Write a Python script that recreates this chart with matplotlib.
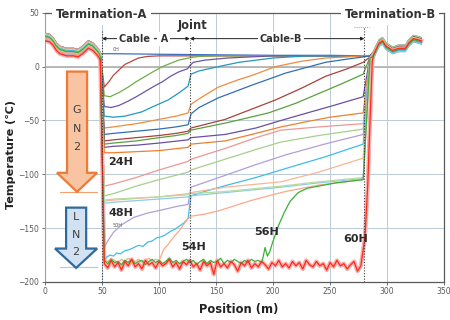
import numpy as np
import matplotlib.pyplot as plt
from matplotlib.patches import Polygon

# shared shape of the two termination sections (position m, temperature C)
termA_x = [0, 4, 7, 10, 13, 19, 25, 29, 33, 38, 42, 45.5, 47, 48.5]
termA_t = [28, 27, 24, 19, 16, 14, 14, 13, 16, 21, 19, 15, 13, 10]
termB_x = [288, 293, 296, 299, 305, 310, 316, 319, 323, 327, 330]
termB_t = [11, 22, 24, 19, 15, 17, 17, 22, 26, 25, 24]

# cable section of every trace, top to bottom
s01_x = [52, 60, 100, 150, 200, 250, 279, 285]
s01_t = [12, 12, 11.5, 11, 10.5, 10.5, 10, 10]
s02_x = [52, 56, 60, 65, 70, 76, 82, 90, 100, 279, 285]
s02_t = [-19, -14, -8, -3, 2, 5, 8, 9.5, 10, 10, 10]
s03_x = [52, 57, 65, 73, 80, 88, 96, 103, 110, 117, 126, 135, 150, 279, 285]
s03_t = [-27, -28, -24, -19, -14, -9, -4, 0, 3, 6, 8, 9.5, 10, 10, 10]
s04_x = [52, 58, 65, 73, 80, 88, 96, 103, 110, 117, 125, 127, 130, 140, 160, 200, 279, 285]
s04_t = [-37, -38, -36, -32, -28, -23, -18, -14, -9, -5, -2, 1, 4, 6, 8, 10, 10, 10]
s05_x = [52, 60, 70, 85, 95, 108, 118, 125.5, 128, 135, 152, 170, 200, 230, 279, 285]
s05_t = [-46, -47, -46, -42, -37, -31, -24, -18, -7, -4, 0, 4, 8, 10, 10, 10]
s06_x = [52, 60, 80, 100, 115, 125.5, 128, 135, 152, 170, 182, 202, 225, 246, 265, 279, 285]
s06_t = [-57, -56, -53, -49, -46, -43, -35, -30, -19, -12, -8, 0, 5, 8, 9, 10, 10]
s07_x = [52, 60, 80, 100, 115, 125.5, 128, 135, 152, 182, 211, 246, 265, 279, 285]
s07_t = [-63, -62, -60, -58, -56, -54, -44, -38, -29, -17, -6, 4, 7, 9, 10]
s08_x = [52, 60, 80, 100, 115, 125.5, 128, 158, 180, 202, 225, 246, 265, 279, 285]
s08_t = [-69, -68, -66, -64, -62, -60, -57, -49, -40, -31, -20, -9, -2, 4, 9]
s09_x = [52, 60, 80, 100, 115, 125.5, 128, 160, 196, 220, 240, 260, 279, 285]
s09_t = [-72, -71, -69, -66, -64, -62, -59, -52, -43, -34, -25, -16, -7, 9]
s10_x = [52, 60, 80, 100, 125.5, 128, 158, 185, 207, 230, 250, 279, 285]
s10_t = [-75, -74, -73, -71, -68, -66, -63, -57, -50, -43, -37, -28, 9]
s11_x = [52, 60, 100, 125.5, 128, 158, 185, 207, 230, 250, 279, 285]
s11_t = [-80, -80, -78, -75, -72, -69, -62, -56, -51, -47, -43, 9]
s12_x = [52, 60, 80, 100, 125.5, 128, 158, 185, 207, 240, 279, 285]
s12_t = [-111, -109, -103, -96, -88, -86, -76, -66, -59, -56, -53, 8]
s13_x = [52, 60, 80, 100, 125.5, 128, 158, 185, 207, 240, 279, 285]
s13_t = [-120, -118, -111, -105, -98, -96, -86, -77, -70, -64, -58, 8]
s14_x = [52, 55, 60, 67, 78, 90, 103, 115, 125.5, 128, 158, 185, 211, 245, 279, 285]
s14_t = [-168, -162, -154, -147, -140, -136, -133, -130, -128, -112, -101, -91, -82, -72, -63, 8]
s15_x = [52, 54, 57, 60, 63, 66, 70, 74, 78, 82, 86, 90, 94, 98, 102, 106, 110, 114, 118, 122,
         125.5, 128, 140, 160, 185, 210, 245, 279, 285]
s15_t = [-181, -177, -175, -176, -173, -174, -171, -170, -168, -166, -167, -163, -162, -159, -158,
         -156, -153, -151, -148, -145, -141, -120, -116, -110, -103, -95, -84, -72, 8]
s16_x = [52, 60, 100, 125.5, 128, 158, 207, 240, 279, 285]
s16_t = [-125, -124, -121, -118, -117, -112, -107, -98, -85, 8]
s17_x = [52, 60, 100, 125.5, 128, 158, 207, 240, 279, 285]
s17_t = [-127, -126, -123, -121, -120, -117, -112, -108, -104, 8]
s18_x = [52, 60, 100, 125.5, 128, 158, 207, 240, 279, 285]
s18_t = [-124, -123, -121, -119, -118, -116, -111, -107, -103, 8]

# 54H: sits on the bottom until ~100 m, then warms
s19_flat = [-179, -181, -178, -180, -182, -179, -181, -178, -180, -181, -179, -182, -180, -178, -181, -179, -180]
s19_x = [101, 104, 108, 113, 118, 122, 125.5, 128, 140, 152, 167, 182, 196, 211, 240, 279, 285]
s19_t = [-178, -170, -165, -158, -152, -146, -141, -139, -137, -134, -129, -124, -120, -116, -110, -105, 8]
# 56H
s20_flat = [-180, -183, -179, -182, -181, -184, -180, -182, -179, -183, -181, -180, -184, -181, -179, -182,
            -180, -183, -181, -178, -182, -180, -183, -181, -179, -182, -180, -184, -181, -179, -183, -180,
            -182, -181, -178, -183, -180, -182, -179, -181, -183, -180, -182, -179, -181, -180, -182]
s20_x = [191, 193, 195, 197, 200, 205, 210, 215, 222, 230, 240, 255, 279, 285]
s20_t = [-178, -168, -176, -172, -162, -147, -135, -125, -117, -113, -111, -108, -105, 8]
# 60H
s21_flat = [-183, -187, -180, -186, -182, -189, -181, -185, -179, -186, -183, -188, -180, -184, -182, -187,
            -181, -185, -183, -179, -186, -182, -188, -181, -184, -180, -186, -183, -189, -181, -185, -182,
            -193, -180, -186, -183, -187, -181, -184, -190, -182, -185, -180, -187, -183, -186, -181, -184,
            -188, -182, -185, -180, -186, -183, -187, -181, -185, -182, -188, -180, -184, -186, -181, -185,
            -183, -189, -182, -186, -180, -185, -183, -188, -184, -181, -190, -185]
s21_x = [279, 280, 281, 283, 285, 287]
s21_t = [-170, -163, -150, -110, -50, 5]

termA_off = [2, 0, 3, -1, 1, -2, 3, -1, 0, 2, -2, 3, 0, -3, 1, -1, 0, 2, -2, 0, -4]
termB_off = [0, 2, -1, 3, 0, -2, 1, 0, -3, 2, 0, -1, 3, 0, -2, 1, -3, 0, 1, -1, 0]

colors = ['#3f6fc2', '#b8473f', '#6fae47', '#6d55a6', '#2497c2', '#f08b3e',
          '#2f6fb8', '#a8423c', '#5aa03c', '#6a4fa0', '#f07f2c',
          '#ee9792', '#a6d08a', '#b09fd6', '#3fbde8', '#f9b596', '#8ecbe6', '#b8dba0',
          '#fba987', '#3cae3a', '#ff2a1a']

step = 3
cables = [
    (s01_x, s01_t), (s02_x, s02_t), (s03_x, s03_t), (s04_x, s04_t), (s05_x, s05_t),
    (s06_x, s06_t), (s07_x, s07_t), (s08_x, s08_t), (s09_x, s09_t), (s10_x, s10_t),
    (s11_x, s11_t), (s12_x, s12_t), (s13_x, s13_t), (s14_x, s14_t), (s15_x, s15_t),
    (s16_x, s16_t), (s17_x, s17_t), (s18_x, s18_t),
    (list(52 + step * np.arange(len(s19_flat))) + s19_x, s19_flat + s19_t),
    (list(52 + step * np.arange(len(s20_flat))) + s20_x, s20_flat + s20_t),
    (list(52 + step * np.arange(len(s21_flat))) + s21_x, s21_flat + s21_t),
]

fig = plt.figure(figsize=(4.5, 3.2), dpi=100)
ax = fig.add_axes([0.1, 0.119, 0.887, 0.841])

for i, (cx, ct) in enumerate(cables):
    x = termA_x + list(cx) + termB_x
    t = [v + termA_off[i] for v in termA_t] + list(ct) + [v + termB_off[i] for v in termB_t]
    if i == len(cables) - 1:
        ax.plot(x, t, color='#f7b0ae', lw=3.0, zorder=2)
    ax.plot(x, t, color=colors[i], lw=0.9, zorder=3)

ax.set_xlim(0, 350)
ax.set_ylim(-200, 50)
ax.set_xticks(range(0, 351, 50))
ax.set_yticks(range(-200, 51, 50))
ax.tick_params(labelsize=5.5, colors='#595959', length=2, width=0.6, pad=2)
ax.grid(True, color='#bccbd9', lw=0.7)
ax.set_axisbelow(True)
ax.axhline(0, color='#b4b4b4', lw=1.3, zorder=1)
for side in ['top', 'right', 'bottom']:
    ax.spines[side].set_color('#5a5a5a')
    ax.spines[side].set_linewidth(0.9)
ax.spines['left'].set_color('#a0a0a0')

# section boundaries
for xv, ytop in [(50, 33), (127, 25), (280, 37)]:
    ax.plot([xv, xv], [-200, ytop], color='#3a3a3a', lw=0.8, ls=(0, (1, 1.5)), zorder=4)
ax.plot([271, 284], [37, 37], color='#808080', lw=0.6, ls=(0, (1, 1.5)))

# cable arrows
ax.annotate('', xy=(50, 26), xytext=(127, 26),
            arrowprops=dict(arrowstyle='<|-|>', lw=0.7, color='#222222', shrinkA=0, shrinkB=0,
                            mutation_scale=5))
ax.annotate('', xy=(127, 26), xytext=(280, 26),
            arrowprops=dict(arrowstyle='<|-|>', lw=0.7, color='#222222', shrinkA=0, shrinkB=0,
                            mutation_scale=5))
box = dict(facecolor='white', edgecolor='none', pad=1.5)
ax.text(86.5, 26, 'Cable - A', ha='center', va='center', fontsize=7, fontweight='bold',
        color='#333333', bbox=box, zorder=6)
ax.text(207, 26, 'Cable-B', ha='center', va='center', fontsize=7, fontweight='bold',
        color='#333333', bbox=box, zorder=6)

# GN2 / LN2 arrows
gn2 = Polygon([(19.3, -4.6), (36.9, -4.6), (36.9, -98.6), (45.7, -98.6), (28.1, -116.3),
               (10.5, -98.6), (19.3, -98.6)], closed=True, facecolor='#f9c4a2',
              edgecolor='#ee7a36', lw=1.6, zorder=5)
ln2 = Polygon([(18.5, -131), (36.1, -131), (36.1, -169), (45.7, -169), (27.3, -187),
               (8.8, -169), (18.5, -169)], closed=True, facecolor='#d2e2f2',
              edgecolor='#2c6aa0', lw=1.6, zorder=5)
ax.add_patch(gn2)
ax.add_patch(ln2)
ax.plot([13, 45.7], [-116.3, -116.3], color='#f5a070', lw=0.8, zorder=4)
ax.plot([13, 45.7], [-186.5, -186.5], color='#9fd0ea', lw=0.8, zorder=4)
for ch, yv in zip('GN2', [-40, -57.5, -74.5]):
    ax.text(28.1, yv, ch, ha='center', va='center', fontsize=8, color='#404040', zorder=6)
for ch, yv in zip('LN2', [-139.5, -156, -172]):
    ax.text(27.3, yv, ch, ha='center', va='center', fontsize=8, color='#404040', zorder=6)

# hour labels
lab = dict(fontsize=8, fontweight='bold', color='#2a2a2a', va='center', zorder=6)
ax.text(55.5, -89, '24H', ha='left', **lab)
ax.text(55.5, -136, '48H', ha='left', **lab)
ax.text(130, -168, '54H', ha='center', **lab)
ax.text(194.5, -154, '56H', ha='center', **lab)
ax.text(272.5, -160, '60H', ha='center', **lab)
ax.text(59, 16, '0H', fontsize=3.5, color='#555555', va='center', ha='left', zorder=6)
ax.text(59, -148, '50H', fontsize=3.5, color='#555555', va='center', ha='left', zorder=6)

# section titles sitting on the frame
tbox = dict(facecolor='white', edgecolor='none', pad=2.5)
fig.text(101.5 / 450, 1 - 15 / 320, 'Termination-A', ha='center', va='center', fontsize=8.3,
         fontweight='bold', color='#333333', bbox=tbox)
fig.text(390 / 450, 1 - 15 / 320, 'Termination-B', ha='center', va='center', fontsize=8.3,
         fontweight='bold', color='#333333', bbox=tbox)
fig.text(192.5 / 450, 1 - 25 / 320, 'Joint', ha='center', va='center', fontsize=8.3,
         fontweight='bold', color='#333333', bbox=tbox)

fig.text(11 / 450, 0.516, 'Temperature (℃)', rotation=90, ha='center', va='center',
         fontsize=8.1, fontweight='bold', color='#222222')
fig.text(239 / 450, 1 - 309 / 320, 'Position (m)', ha='center', va='center',
         fontsize=8.3, fontweight='bold', color='#222222')

fig.savefig('out.png', dpi=100)
